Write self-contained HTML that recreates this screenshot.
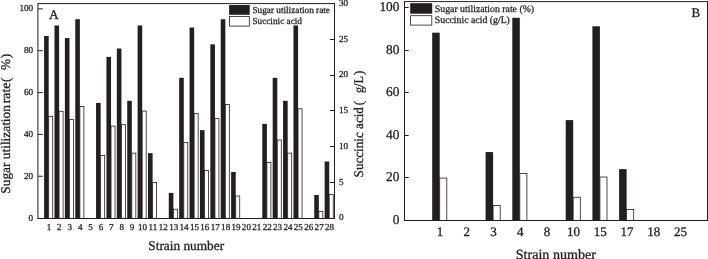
<!DOCTYPE html>
<html><head><meta charset="utf-8"><title>Chart</title>
<style>
html,body{margin:0;padding:0;background:#fff;}
body{width:708px;height:259px;overflow:hidden;}
svg{display:block;will-change:transform;}
svg text{font-family:"Liberation Serif",serif;fill:#231f20;stroke:#231f20;stroke-width:0.3px;text-rendering:geometricPrecision;}
svg text.s{stroke-width:0.28px;}
</style></head><body>
<svg width="708" height="259" viewBox="0 0 708 259">
<rect width="708" height="259" fill="#fff"/>
<rect x="44.1" y="35.95" width="4.6" height="182.55" fill="#231f20"/>
<rect x="48.7" y="116.3" width="4" height="102.2" fill="#fff" stroke="#231f20" stroke-width="0.8"/>
<rect x="54.49" y="25.49" width="4.6" height="193.01" fill="#231f20"/>
<rect x="59.09" y="111.28" width="4" height="107.22" fill="#fff" stroke="#231f20" stroke-width="0.8"/>
<rect x="64.88" y="38.05" width="4.6" height="180.45" fill="#231f20"/>
<rect x="69.48" y="119.44" width="4" height="99.06" fill="#fff" stroke="#231f20" stroke-width="0.8"/>
<rect x="75.27" y="19.21" width="4.6" height="199.29" fill="#231f20"/>
<rect x="79.87" y="106.47" width="4" height="112.03" fill="#fff" stroke="#231f20" stroke-width="0.8"/>
<rect x="96.05" y="102.91" width="4.6" height="115.59" fill="#231f20"/>
<rect x="100.65" y="155.43" width="4" height="63.07" fill="#fff" stroke="#231f20" stroke-width="0.8"/>
<rect x="106.44" y="56.88" width="4.6" height="161.62" fill="#231f20"/>
<rect x="111.04" y="126.14" width="4" height="92.36" fill="#fff" stroke="#231f20" stroke-width="0.8"/>
<rect x="116.83" y="48.51" width="4.6" height="169.99" fill="#231f20"/>
<rect x="121.43" y="124.67" width="4" height="93.83" fill="#fff" stroke="#231f20" stroke-width="0.8"/>
<rect x="127.22" y="100.82" width="4.6" height="117.68" fill="#231f20"/>
<rect x="131.82" y="153.13" width="4" height="65.37" fill="#fff" stroke="#231f20" stroke-width="0.8"/>
<rect x="137.61" y="25.49" width="4.6" height="193.01" fill="#231f20"/>
<rect x="142.21" y="111.07" width="4" height="107.43" fill="#fff" stroke="#231f20" stroke-width="0.8"/>
<rect x="148" y="153.13" width="4.6" height="65.37" fill="#231f20"/>
<rect x="152.6" y="182.43" width="4" height="36.07" fill="#fff" stroke="#231f20" stroke-width="0.8"/>
<rect x="168.78" y="192.89" width="4.6" height="25.61" fill="#231f20"/>
<rect x="173.38" y="209.21" width="4" height="9.29" fill="#fff" stroke="#231f20" stroke-width="0.8"/>
<rect x="179.17" y="77.8" width="4.6" height="140.7" fill="#231f20"/>
<rect x="183.77" y="142.46" width="4" height="76.04" fill="#fff" stroke="#231f20" stroke-width="0.8"/>
<rect x="189.56" y="27.58" width="4.6" height="190.92" fill="#231f20"/>
<rect x="194.16" y="113.38" width="4" height="105.12" fill="#fff" stroke="#231f20" stroke-width="0.8"/>
<rect x="199.95" y="130.12" width="4.6" height="88.38" fill="#231f20"/>
<rect x="204.55" y="170.5" width="4" height="48" fill="#fff" stroke="#231f20" stroke-width="0.8"/>
<rect x="210.34" y="44.32" width="4.6" height="174.18" fill="#231f20"/>
<rect x="214.94" y="118.61" width="4" height="99.89" fill="#fff" stroke="#231f20" stroke-width="0.8"/>
<rect x="220.73" y="19.21" width="4.6" height="199.29" fill="#231f20"/>
<rect x="225.33" y="104.59" width="4" height="113.91" fill="#fff" stroke="#231f20" stroke-width="0.8"/>
<rect x="231.12" y="171.97" width="4.6" height="46.53" fill="#231f20"/>
<rect x="235.72" y="196.03" width="4" height="22.47" fill="#fff" stroke="#231f20" stroke-width="0.8"/>
<rect x="262.29" y="123.84" width="4.6" height="94.66" fill="#231f20"/>
<rect x="266.89" y="162.55" width="4" height="55.95" fill="#fff" stroke="#231f20" stroke-width="0.8"/>
<rect x="272.68" y="77.8" width="4.6" height="140.7" fill="#231f20"/>
<rect x="277.28" y="139.95" width="4" height="78.55" fill="#fff" stroke="#231f20" stroke-width="0.8"/>
<rect x="283.07" y="100.82" width="4.6" height="117.68" fill="#231f20"/>
<rect x="287.67" y="153.13" width="4" height="65.37" fill="#fff" stroke="#231f20" stroke-width="0.8"/>
<rect x="293.46" y="25.49" width="4.6" height="193.01" fill="#231f20"/>
<rect x="298.06" y="108.77" width="4" height="109.73" fill="#fff" stroke="#231f20" stroke-width="0.8"/>
<rect x="314.24" y="194.98" width="4.6" height="23.52" fill="#231f20"/>
<rect x="318.84" y="211.41" width="4" height="7.09" fill="#fff" stroke="#231f20" stroke-width="0.8"/>
<rect x="324.63" y="161.5" width="4.6" height="57" fill="#231f20"/>
<rect x="329.23" y="194.35" width="4" height="24.15" fill="#fff" stroke="#231f20" stroke-width="0.8"/>
<rect x="37.9" y="3.6" width="296.6" height="214.9" fill="none" stroke="#231f20" stroke-width="1"/>
<line x1="37.9" y1="218.5" x2="42.8" y2="218.5" stroke="#231f20" stroke-width="1"/>
<text class="s" x="33.2" y="220.6" font-size="9.2" text-anchor="end">0</text>
<line x1="37.9" y1="176.25" x2="42.8" y2="176.25" stroke="#231f20" stroke-width="1"/>
<text class="s" x="33.2" y="178.75" font-size="9.2" text-anchor="end">20</text>
<line x1="37.9" y1="134.4" x2="42.8" y2="134.4" stroke="#231f20" stroke-width="1"/>
<text class="s" x="33.2" y="136.9" font-size="9.2" text-anchor="end">40</text>
<line x1="37.9" y1="92.55" x2="42.8" y2="92.55" stroke="#231f20" stroke-width="1"/>
<text class="s" x="33.2" y="95.05" font-size="9.2" text-anchor="end">60</text>
<line x1="37.9" y1="50.7" x2="42.8" y2="50.7" stroke="#231f20" stroke-width="1"/>
<text class="s" x="33.2" y="53.2" font-size="9.2" text-anchor="end">80</text>
<line x1="37.9" y1="8.85" x2="42.8" y2="8.85" stroke="#231f20" stroke-width="1"/>
<text class="s" x="33.2" y="11.35" font-size="9.2" text-anchor="end">100</text>
<line x1="334.5" y1="218.5" x2="329.9" y2="218.5" stroke="#231f20" stroke-width="1"/>
<text class="s" x="338.9" y="220.4" font-size="9.2">0</text>
<line x1="334.5" y1="182.5" x2="329.9" y2="182.5" stroke="#231f20" stroke-width="1"/>
<text class="s" x="338.9" y="184.67" font-size="9.2">5</text>
<line x1="334.5" y1="146.5" x2="329.9" y2="146.5" stroke="#231f20" stroke-width="1"/>
<text class="s" x="338.9" y="148.93" font-size="9.2">10</text>
<line x1="334.5" y1="110.5" x2="329.9" y2="110.5" stroke="#231f20" stroke-width="1"/>
<text class="s" x="338.9" y="113.2" font-size="9.2">15</text>
<line x1="334.5" y1="75.5" x2="329.9" y2="75.5" stroke="#231f20" stroke-width="1"/>
<text class="s" x="338.9" y="77.47" font-size="9.2">20</text>
<line x1="334.5" y1="39.5" x2="329.9" y2="39.5" stroke="#231f20" stroke-width="1"/>
<text class="s" x="338.9" y="41.73" font-size="9.2">25</text>
<line x1="334.5" y1="3.5" x2="329.9" y2="3.5" stroke="#231f20" stroke-width="1"/>
<text class="s" x="338.9" y="6" font-size="9.2">30</text>
<text class="s" x="49" y="229.9" font-size="9.1" text-anchor="middle">1</text>
<text class="s" x="59.39" y="229.9" font-size="9.1" text-anchor="middle">2</text>
<text class="s" x="69.78" y="229.9" font-size="9.1" text-anchor="middle">3</text>
<text class="s" x="80.17" y="229.9" font-size="9.1" text-anchor="middle">4</text>
<text class="s" x="90.56" y="229.9" font-size="9.1" text-anchor="middle">5</text>
<text class="s" x="100.95" y="229.9" font-size="9.1" text-anchor="middle">6</text>
<text class="s" x="111.34" y="229.9" font-size="9.1" text-anchor="middle">7</text>
<text class="s" x="121.73" y="229.9" font-size="9.1" text-anchor="middle">8</text>
<text class="s" x="132.12" y="229.9" font-size="9.1" text-anchor="middle">9</text>
<text class="s" x="142.51" y="229.9" font-size="9.1" text-anchor="middle">10</text>
<text class="s" x="152.9" y="229.9" font-size="9.1" text-anchor="middle">11</text>
<text class="s" x="163.29" y="229.9" font-size="9.1" text-anchor="middle">12</text>
<text class="s" x="173.68" y="229.9" font-size="9.1" text-anchor="middle">13</text>
<text class="s" x="184.07" y="229.9" font-size="9.1" text-anchor="middle">14</text>
<text class="s" x="194.46" y="229.9" font-size="9.1" text-anchor="middle">15</text>
<text class="s" x="204.85" y="229.9" font-size="9.1" text-anchor="middle">16</text>
<text class="s" x="215.24" y="229.9" font-size="9.1" text-anchor="middle">17</text>
<text class="s" x="225.63" y="229.9" font-size="9.1" text-anchor="middle">18</text>
<text class="s" x="236.02" y="229.9" font-size="9.1" text-anchor="middle">19</text>
<text class="s" x="246.41" y="229.9" font-size="9.1" text-anchor="middle">20</text>
<text class="s" x="256.8" y="229.9" font-size="9.1" text-anchor="middle">21</text>
<text class="s" x="267.19" y="229.9" font-size="9.1" text-anchor="middle">22</text>
<text class="s" x="277.58" y="229.9" font-size="9.1" text-anchor="middle">23</text>
<text class="s" x="287.97" y="229.9" font-size="9.1" text-anchor="middle">24</text>
<text class="s" x="298.36" y="229.9" font-size="9.1" text-anchor="middle">25</text>
<text class="s" x="308.75" y="229.9" font-size="9.1" text-anchor="middle">26</text>
<text class="s" x="319.14" y="229.9" font-size="9.1" text-anchor="middle">27</text>
<text class="s" x="329.53" y="229.9" font-size="9.1" text-anchor="middle">28</text>
<text x="148.3" y="249.7" font-size="13.3" textLength="75.8" lengthAdjust="spacingAndGlyphs">Strain number</text>
<text transform="translate(10.1,0) rotate(-90)" font-size="13.3"><tspan x="-193.7" textLength="88.6" lengthAdjust="spacingAndGlyphs">Sugar utilization</tspan><tspan x="-103.3" textLength="20.7" lengthAdjust="spacingAndGlyphs">rate</tspan><tspan x="-82.0">(</tspan><tspan x="-70.1">%</tspan><tspan x="-58.3">)</tspan></text>
<text transform="translate(363.2,0) rotate(-90)" font-size="13.2"><tspan x="-177.4" textLength="70.3" lengthAdjust="spacingAndGlyphs">Succinic acid</tspan><tspan x="-105.3">(</tspan><tspan x="-93.1" textLength="17" lengthAdjust="spacingAndGlyphs">g/L</tspan><tspan x="-75.0">)</tspan></text>
<text x="49.0" y="18.5" font-size="13.4">A</text>
<rect x="229.1" y="5" width="20.6" height="9.8" fill="#231f20"/>
<rect x="229.5" y="16.5" width="19.8" height="9.6" fill="#fff" stroke="#231f20" stroke-width="0.8"/>
<text class="s" x="252.4" y="13.1" font-size="9.25">Sugar utilization rate</text>
<text class="s" x="252.4" y="23.6" font-size="9.25">Succinic acid</text>
<rect x="432.2" y="32.68" width="7.5" height="187.82" fill="#231f20"/>
<rect x="439.7" y="178.09" width="7.1" height="42.41" fill="#fff" stroke="#231f20" stroke-width="0.8"/>
<rect x="485.6" y="152.08" width="7.5" height="68.42" fill="#231f20"/>
<rect x="493.1" y="205.59" width="7.1" height="14.91" fill="#fff" stroke="#231f20" stroke-width="0.8"/>
<rect x="512.3" y="17.76" width="7.5" height="202.74" fill="#231f20"/>
<rect x="519.8" y="173.4" width="7.1" height="47.1" fill="#fff" stroke="#231f20" stroke-width="0.8"/>
<rect x="565.7" y="120.1" width="7.5" height="100.4" fill="#231f20"/>
<rect x="573.2" y="197.27" width="7.1" height="23.23" fill="#fff" stroke="#231f20" stroke-width="0.8"/>
<rect x="592.4" y="26.29" width="7.5" height="194.21" fill="#231f20"/>
<rect x="599.9" y="177.02" width="7.1" height="43.48" fill="#fff" stroke="#231f20" stroke-width="0.8"/>
<rect x="619.1" y="169.13" width="7.5" height="51.37" fill="#231f20"/>
<rect x="626.6" y="209.43" width="7.1" height="11.07" fill="#fff" stroke="#231f20" stroke-width="0.8"/>
<rect x="404.5" y="1.6" width="303" height="218.9" fill="none" stroke="#231f20" stroke-width="1"/>
<line x1="404.5" y1="220.5" x2="408.7" y2="220.5" stroke="#231f20" stroke-width="1"/>
<text x="399.5" y="224.4" font-size="13.4" text-anchor="end">0</text>
<line x1="404.5" y1="177.5" x2="408.7" y2="177.5" stroke="#231f20" stroke-width="1"/>
<text x="399.5" y="181.4" font-size="13.4" text-anchor="end">20</text>
<line x1="404.5" y1="135.5" x2="408.7" y2="135.5" stroke="#231f20" stroke-width="1"/>
<text x="399.5" y="139.4" font-size="13.4" text-anchor="end">40</text>
<line x1="404.5" y1="92.5" x2="408.7" y2="92.5" stroke="#231f20" stroke-width="1"/>
<text x="399.5" y="96.4" font-size="13.4" text-anchor="end">60</text>
<line x1="404.5" y1="50.5" x2="408.7" y2="50.5" stroke="#231f20" stroke-width="1"/>
<text x="399.5" y="54.4" font-size="13.4" text-anchor="end">80</text>
<line x1="404.5" y1="7.5" x2="408.7" y2="7.5" stroke="#231f20" stroke-width="1"/>
<text x="399.5" y="11.4" font-size="13.4" text-anchor="end">100</text>
<text x="440.1" y="235.9" font-size="13" text-anchor="middle">1</text>
<text x="466.8" y="235.9" font-size="13" text-anchor="middle">2</text>
<text x="493.5" y="235.9" font-size="13" text-anchor="middle">3</text>
<text x="520.2" y="235.9" font-size="13" text-anchor="middle">4</text>
<text x="546.9" y="235.9" font-size="13" text-anchor="middle">8</text>
<text x="573.6" y="235.9" font-size="13" text-anchor="middle">10</text>
<text x="600.3" y="235.9" font-size="13" text-anchor="middle">15</text>
<text x="627" y="235.9" font-size="13" text-anchor="middle">17</text>
<text x="653.7" y="235.9" font-size="13" text-anchor="middle">18</text>
<text x="680.4" y="235.9" font-size="13" text-anchor="middle">25</text>
<text x="515.8" y="258.6" font-size="14" textLength="80.1" lengthAdjust="spacingAndGlyphs">Strain number</text>
<text x="691.5" y="17" font-size="13">B</text>
<rect x="410.2" y="3.2" width="22" height="10.5" fill="#231f20"/>
<rect x="410.6" y="15.7" width="21.2" height="9.4" fill="#fff" stroke="#231f20" stroke-width="0.8"/>
<text class="s" x="434.8" y="11.6" font-size="9.8">Sugar utilization rate (%)</text>
<text class="s" x="434.8" y="22.6" font-size="9.8">Succinic acid (g/L)</text>
</svg>
</body></html>
